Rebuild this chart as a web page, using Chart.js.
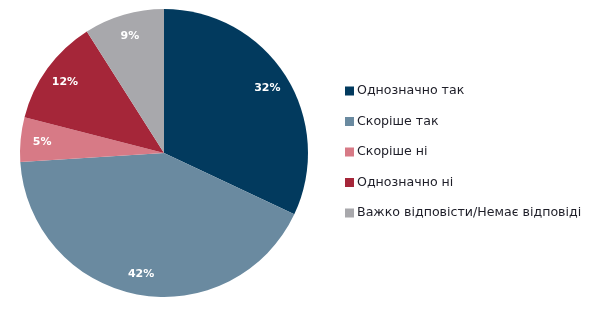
<!DOCTYPE html>
<html lang="uk">
<head>
    <meta charset="UTF-8">
    <title>Pie</title>
    <script src="https://cdn.jsdelivr.net/npm/chart.js@4"></script>
    <style>
        html, body { margin: 0; padding: 0; background: #fff; }
        #wrap { width: 600px; height: 315px; }
    </style>
</head>
<body>
    <div id="wrap"><canvas id="myChart" width="600" height="315"></canvas></div>
<script>
    const categories = ['Однозначно так', 'Скоріше так', 'Скоріше ні', 'Однозначно ні', 'Важко відповісти/Немає відповіді']
    const values = [32, 42, 5, 12, 9]
    const colors = ['#023a5e', '#6a8aa0', '#d77a86', '#a52639', '#a8a8ac']

    // підписи відсотків всередині секторів
    const pctLabels = {
      id: 'pctLabels',
      afterDatasetsDraw(chart) {
        const ctx = chart.ctx
        const meta = chart.getDatasetMeta(0)
        ctx.save()
        ctx.font = 'bold 11px "DejaVu Sans"'
        ctx.fillStyle = '#fff'
        ctx.textAlign = 'center'
        ctx.textBaseline = 'middle'
        meta.data.forEach((arc, i) => {
          const p = arc.getProps(['x', 'y', 'startAngle', 'endAngle', 'outerRadius'], true)
          const a = (p.startAngle + p.endAngle) / 2
          const r = p.outerRadius * 0.85
          ctx.fillText(values[i] + '%', p.x + Math.cos(a) * r, p.y + Math.sin(a) * r + 1)
        })
        ctx.restore()
      }
    }

    // легенда праворуч
    const sideLegend = {
      id: 'sideLegend',
      afterDraw(chart) {
        const ctx = chart.ctx
        ctx.save()
        ctx.font = '12.6px "DejaVu Sans"'
        ctx.textBaseline = 'middle'
        categories.forEach((name, i) => {
          const y = 91 + i * 30.5
          ctx.fillStyle = colors[i]
          ctx.fillRect(345, y - 4.5, 9, 9)
          ctx.fillStyle = '#1e1e28'
          ctx.fillText(name, 357, y)
        })
        ctx.restore()
      }
    }

    new Chart(document.getElementById('myChart'), {
      type: 'pie',
      data: {
        labels: categories,
        datasets: [{
          data: values,
          backgroundColor: colors,
          borderWidth: 0
        }]
      },
      options: {
        responsive: false,
        animation: false,
        layout: { padding: { left: 20, right: 292, top: 9, bottom: 18 } },
        plugins: {
          legend: { display: false },
          tooltip: { enabled: false }
        }
      },
      plugins: [pctLabels, sideLegend]
    })
</script>
</body>
</html>
